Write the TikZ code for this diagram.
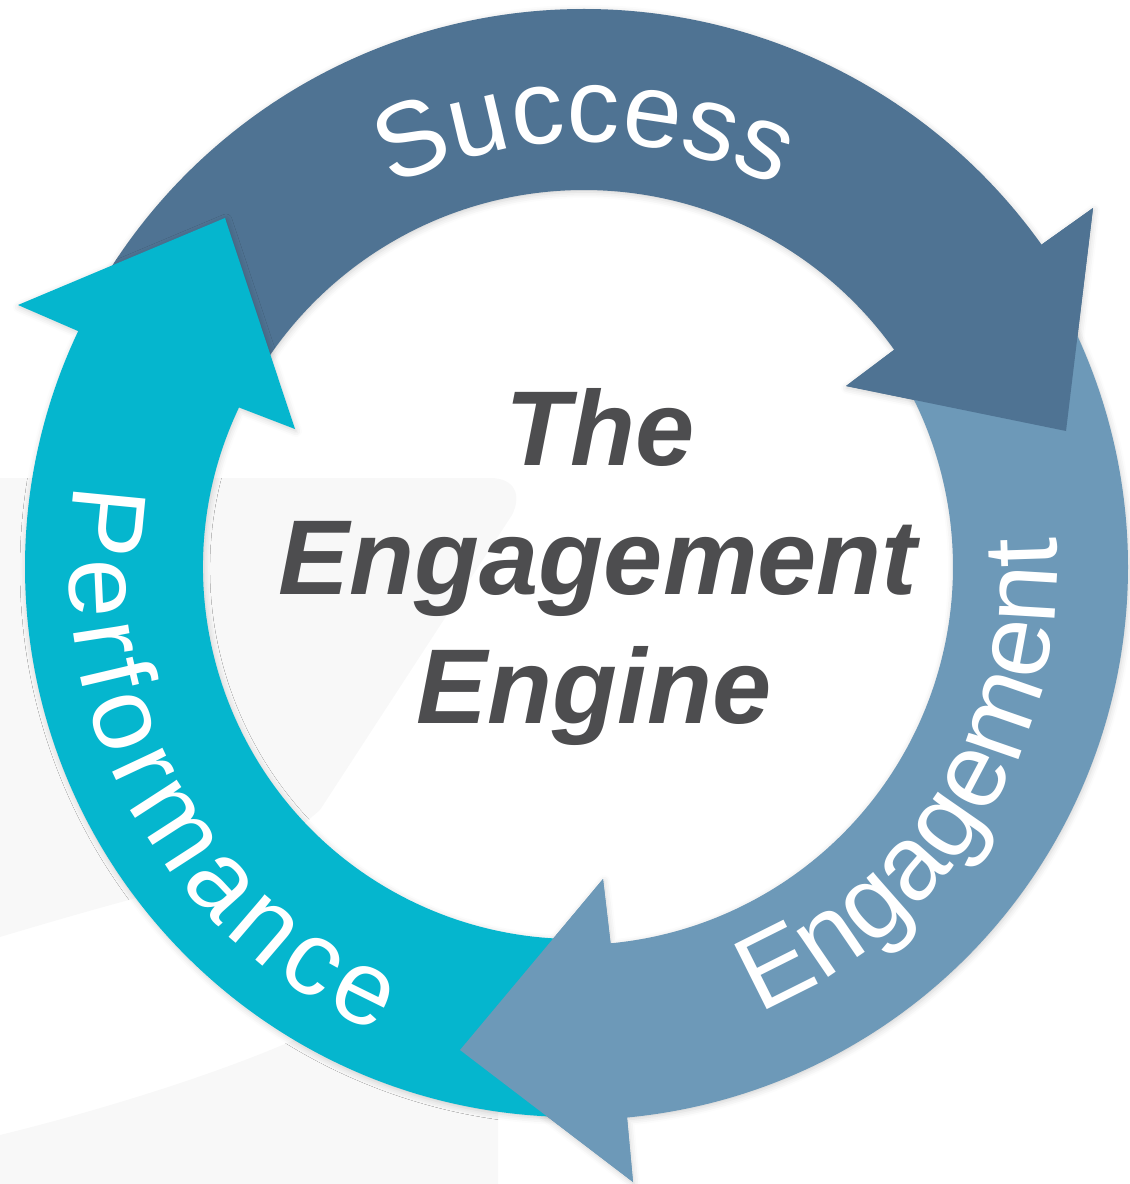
\documentclass[tikz,border=0pt]{standalone}
\usepackage{fontspec}
\setmainfont{Liberation Sans}
\usetikzlibrary{decorations.text,shadows.blur}

\definecolor{successblue}{RGB}{79,115,147}
\definecolor{engageblue}{RGB}{109,153,184}
\definecolor{perfcyan}{RGB}{5,182,206}
\definecolor{titlegray}{RGB}{77,77,79}
\definecolor{faintgray}{RGB}{248,248,248}

\newcommand\ringfont{\fontsize{60}{60}\selectfont}
\newcommand\titlefont{\fontsize{60.5}{70}\selectfont\bfseries\itshape}

\tikzset{
  band/.style={blur shadow={shadow xshift=0.2mm, shadow yshift=-0.4mm, shadow blur radius=1.2mm, shadow opacity=18}},
  ringtext/.style={decorate, decoration={text along path, text align=center, text={|\ringfont\color{white}|#1}}},
  fittext/.style={ringtext=#1, decoration={text align=fit to path}},
  title/.style={font=\titlefont, text=titlegray, anchor=base, inner sep=0pt}
}

\begin{document}
\begin{tikzpicture}[x=0.2mm, y=-0.2mm]
  \useasboundingbox (0,0) rectangle (1129,1184);
  \coordinate (c) at (575,567);
  \coordinate (cs) at (584,571);

  \fill[faintgray] (0,478) -- (490,478) .. controls (515,478) and (522,495) .. (512,515) -- (320,810) -- (250,870) .. controls (180,885) and (90,910) .. (0,937) -- cycle;
  \fill[faintgray] (0,1184) -- (0,1135) .. controls (110,1108) and (220,1072) .. (287,1043) -- (420,985) -- (498,985) -- (498,1184) -- cycle;

  \fill[successblue, band] ([shift={(cs)}]210:562) arc[start angle=210, end angle=324.5, radius=562]
    -- (1093,208) -- (1066,431) -- (846,386)
    -- ([shift={(cs)}]324.5:381) arc[start angle=324.5, end angle=210, radius=381] -- cycle;
  \fill[engageblue, band] ([shift={(c)}]330:553) arc[start angle=330, end angle=444.6, radius=553]
    -- (633,1182) -- (460,1050) -- (603,879)
    -- ([shift={(c)}]84.6:378) arc[start angle=84.6, end angle=-30, radius=378] -- cycle;
  \fill[perfcyan, band] ([shift={(c)}]88:550) arc[start angle=88, end angle=205.4, radius=550]
    -- (18,305) -- (225,218) -- (295,429)
    -- ([shift={(c)}]205.4:372) arc[start angle=205.4, end angle=88, radius=372] -- cycle;

  \fill[successblue] ([shift={(cs)}]324.5:562) -- (1093,208) -- (1066,431) -- (846,386) -- ([shift={(cs)}]324.5:381) -- cycle;
  \fill[engageblue] ([shift={(c)}]84.6:553) -- (633,1182) -- (460,1050) -- (603,879) -- ([shift={(c)}]84.6:378) -- cycle;

  \path[ringtext=Success] ([shift={(cs)}]225:429) arc[start angle=225, end angle=315, radius=429];
  \path[ringtext=Engagement] ([shift={(c)}]77:482) arc[start angle=77, end angle=-13, radius=482];
  \path[fittext=Performance] ([shift={(c)}]189.5:506) arc[start angle=189.5, end angle=113, radius=506];

  \node[title] (the) at (600,465) {The};
  \node[title] (engagement) at (598,594) {Engagement};
  \node[title] (engine) at (594,723) {Engine};
\end{tikzpicture}
\end{document}
